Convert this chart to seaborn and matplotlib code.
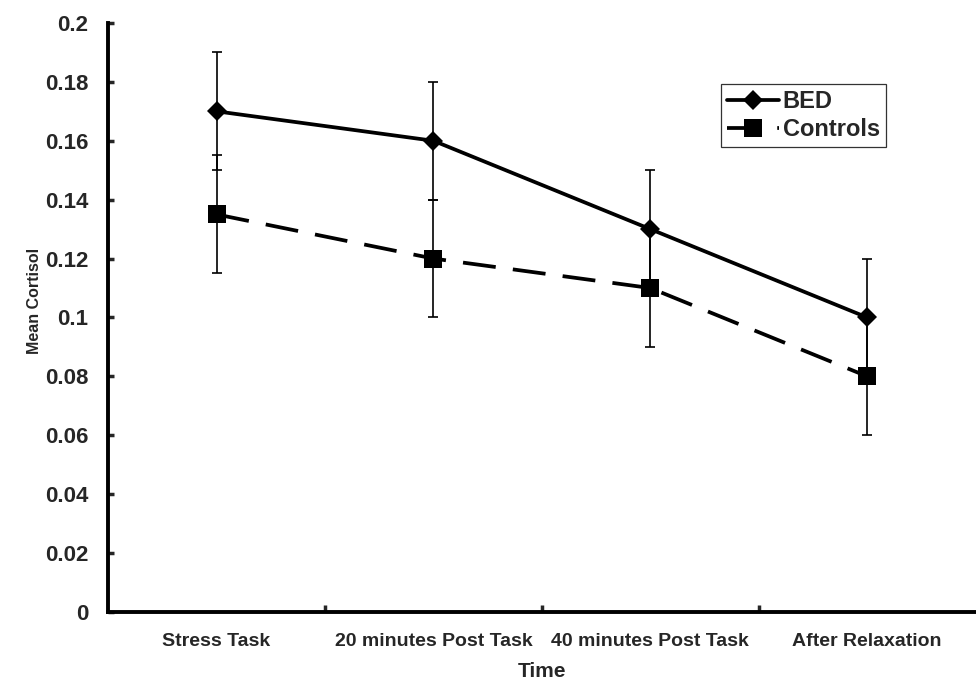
import matplotlib
matplotlib.use("Agg")
import matplotlib.pyplot as plt
import seaborn as sns
import pandas as pd

# values
TIMES = ["Stress Task", "20 minutes Post Task", "40 minutes Post Task", "After Relaxation"]
BED_MEAN = [0.17, 0.16, 0.13, 0.10]
BED_ERR = [0.02, 0.02, 0.02, 0.02]
CTRL_MEAN = [0.135, 0.12, 0.11, 0.08]
CTRL_ERR = [0.02, 0.02, 0.02, 0.02]
Y_TICKS = [0, 0.02, 0.04, 0.06, 0.08, 0.1, 0.12, 0.14, 0.16, 0.18, 0.2]
Y_LABELS = ["0", "0.02", "0.04", "0.06", "0.08", "0.1", "0.12", "0.14", "0.16", "0.18", "0.2"]


def main():
    sns.set_style("white")
    plt.rcParams["font.family"] = ["Liberation Sans", "DejaVu Sans"]
    plt.rcParams["font.weight"] = "bold"

    pos = list(range(len(TIMES)))
    df = pd.DataFrame({
        "pos": pos * 2,
        "cortisol": BED_MEAN + CTRL_MEAN,
        "err": BED_ERR + CTRL_ERR,
        "group": ["BED"] * 4 + ["Controls"] * 4,
    })

    fig = plt.figure(figsize=(9.76, 6.81), dpi=100)
    ax = fig.add_axes([0.1107, 0.1013, 0.889, 0.865])

    # error bars first so markers sit on top
    for g in ["BED", "Controls"]:
        d = df[df["group"] == g]
        ax.errorbar(d["pos"], d["cortisol"], yerr=d["err"], fmt="none",
                    ecolor="black", elinewidth=1.2, capsize=3.8, capthick=1.2, zorder=2)

    sns.lineplot(data=df, x="pos", y="cortisol", style="group",
                 markers={"BED": "D", "Controls": "s"},
                 dashes={"BED": "", "Controls": (8.8, 4.6)},
                 color="black", linewidth=2.7, markeredgewidth=0,
                 ax=ax, zorder=3, legend=False)
    for line, ms in zip(ax.lines[-2:], [9.7, 13.5]):
        line.set_markersize(ms)

    # legend built from the drawn lines
    handles = ax.lines[-2:]
    leg = ax.legend(handles, ["BED", "Controls"], loc="upper left",
                    bbox_to_anchor=(0.707, 0.896), borderaxespad=0,
                    frameon=True, fancybox=False,
                    edgecolor="black", fontsize=17, handlelength=2.2,
                    handletextpad=0.15, borderpad=0.25, labelspacing=0.2)
    leg.get_frame().set_linewidth(0.9)
    for t in leg.get_texts():
        t.set_fontweight("bold")

    ax.set_xlim(-0.5, 3.5)
    ax.set_ylim(0, 0.2)
    ax.set_yticks(Y_TICKS)
    ax.set_yticklabels(Y_LABELS, fontsize=16, fontweight="bold")
    ax.set_xticks(pos)
    ax.set_xticklabels(TIMES, fontsize=14, fontweight="bold")
    ax.set_xticks([0.5, 1.5, 2.5], minor=True)

    ax.tick_params(axis="y", which="major", left=True, direction="in",
                   length=4.5, width=2.5, pad=14)
    ax.tick_params(axis="x", which="major", bottom=True, length=0, pad=15)
    ax.tick_params(axis="x", which="minor", bottom=True, direction="in",
                   length=5, width=2.5)

    sns.despine(ax=ax)
    for s in ["left", "bottom"]:
        ax.spines[s].set_linewidth(2.8)
        ax.spines[s].set_color("black")

    ax.set_xlabel("Time", fontsize=15, fontweight="bold", labelpad=9)
    ax.set_ylabel("Mean Cortisol", fontsize=11.5, fontweight="bold")
    ax.yaxis.set_label_coords(-0.076, 0.528)

    fig.savefig("out.png", dpi=100)
    plt.close(fig)


if __name__ == "__main__":
    main()
